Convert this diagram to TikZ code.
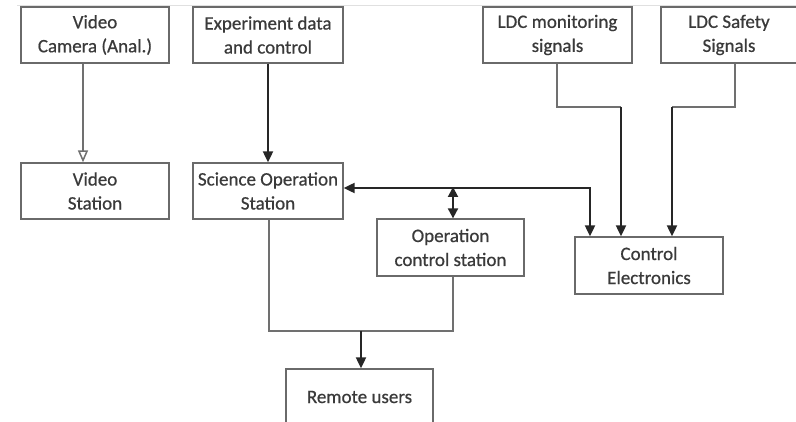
\documentclass[tikz,border=0pt]{standalone}
\usepackage{fontspec}
\setmainfont{Carlito}[FakeBold=0.6]
\usetikzlibrary{arrows.meta}
\definecolor{txt}{HTML}{3A3A3A}
\definecolor{bord}{HTML}{6A6A6A}
\definecolor{thinl}{HTML}{707070}
\tikzset{
  blk/.style={draw=bord, line width=1.3pt, fill=white, align=center, text=txt,
    font=\fontsize{19}{24}\selectfont, inner sep=0pt},
  thinline/.style={draw=thinl, line width=1.5pt},
  thickline/.style={draw=black!85, line width=2pt},
  hd/.style={Triangle[length=11pt,width=10pt]},
  tip/.style={-{Triangle[length=11pt,width=10pt]}},
  opentip/.style={-{Triangle[open,length=12pt,width=10pt,fill=white]}},
}
\begin{document}
\begin{tikzpicture}[x=1pt,y=-1pt]
\useasboundingbox (0,0) rectangle (796,422);
\clip (0,0) rectangle (796,422);
\draw[black!12, line width=0.8pt] (17,5) -- (796,5);
% nodes
\node[blk, minimum width=148pt, minimum height=56pt] (cam) at (95,35) {Video\\Camera (Anal.)};
\node[blk, minimum width=150pt, minimum height=56pt] (exp) at (268,35) {Experiment data\\and control};
\node[blk, minimum width=149pt, minimum height=56pt] (ldcm) at (557.5,35) {LDC monitoring\\signals};
\node[blk, minimum width=136pt, minimum height=56pt] (ldcs) at (729,35) {LDC Safety\\Signals};
\node[blk, minimum width=148pt, minimum height=56pt] (vid) at (95,191) {Video\\Station};
\node[blk, minimum width=150pt, minimum height=56pt] (sos) at (268,191) {Science Operation\\Station};
\node[blk, minimum width=147pt, minimum height=57pt] (ocs) at (450.5,247.5) {Operation\\control station};
\node[blk, minimum width=148pt, minimum height=57pt] (ce) at (649,265.5) {Control\\Electronics};
\node[blk, minimum width=147pt, minimum height=56pt] (ru) at (359.5,397) {Remote users};
% coordinates
\coordinate (m1) at (557,107);
\coordinate (m2) at (621,107);
\coordinate (s1) at (735,107);
\coordinate (s2) at (672,107);
\coordinate (h) at (590,188);
\coordinate (d) at (453,187);
\coordinate (b1) at (269,331);
\coordinate (b2) at (453,331);
\coordinate (j) at (361,331);
% connectors
\draw[thinline, opentip] (cam.south -| 83,0) -- (vid.north -| 83,0);
\draw[thickline, tip] (exp.south) -- (sos.north);
\draw[thinline] (ldcm.south -| m1) -- (m1) -- (m2);
\draw[thickline, tip] (m2) -- (m2 |- ce.north);
\draw[thinline] (ldcs.south -| s1) -- (s1) -- (s2);
\draw[thickline, tip] (s2) -- (s2 |- ce.north);
\draw[thickline, {Triangle[length=11pt,width=10pt]}-{Triangle[length=11pt,width=10pt]}] (sos.east |- h) -- (h) -- (h |- ce.north);
\draw[thickline, {Triangle[length=10pt,width=10pt]}-{Triangle[length=10pt,width=10pt]}] (d) -- (d |- ocs.north);
\draw[thinline] (sos.south -| b1) -- (b1) -- (b2) -- (b2 |- ocs.south);
\draw[thickline, tip] (j) -- (j |- ru.north);
\end{tikzpicture}
\end{document}
